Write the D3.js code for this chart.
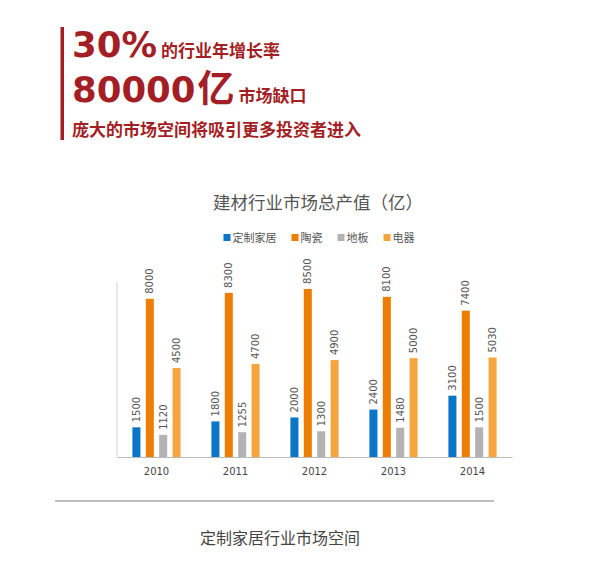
<!DOCTYPE html>
<html>
<head>
<meta charset="utf-8">
<script src="https://cdn.jsdelivr.net/npm/d3@7"></script>
<style>
  body { margin: 0; background: #fff; }
  svg { display: block; }
</style>
</head>
<body>
<div id="chart"></div>
<script>
// data
var years = ["2010", "2011", "2012", "2013", "2014"];
var seriesNames = ["定制家居", "陶瓷", "地板", "电器"];
var customHome = [1500, 1800, 2000, 2400, 3100];
var ceramics = [8000, 8300, 8500, 8100, 7400];
var flooring = [1120, 1255, 1300, 1480, 1500];
var appliances = [4500, 4700, 4900, 5000, 5030];
var colors = ["#0b75c8", "#ee7d03", "#b3b3b3", "#f5a53d"];

var seriesValues = [customHome, ceramics, flooring, appliances];
var cjk = "'Noto Sans CJK SC', sans-serif";
var red = "#a31f25";

var svg = d3.select("#chart").append("svg")
  .attr("width", 600)
  .attr("height", 566);

// ----- header block
svg.append("rect")
  .attr("x", 60.5).attr("y", 27)
  .attr("width", 3.5).attr("height", 113)
  .attr("fill", red);

function headline(y, big, small) {
  var t = svg.append("text")
    .attr("x", 72).attr("y", y)
    .attr("fill", red)
    .attr("font-weight", "bold");
  t.append("tspan")
    .attr("font-family", "'DejaVu Sans', sans-serif")
    .attr("font-size", 35.5)
    .text(big[0]);
  if (big[1]) {
    t.append("tspan")
      .attr("font-family", cjk)
      .attr("font-size", 37)
      .attr("dx", 2)
      .text(big[1]);
  }
  t.append("tspan")
    .attr("font-family", cjk)
    .attr("font-size", 17)
    .attr("dx", 4)
    .text(small);
}
headline(57, ["30%"], "的行业年增长率");
headline(102, ["80000", "亿"], "市场缺口");

svg.append("text")
  .attr("x", 72).attr("y", 136)
  .attr("fill", red)
  .attr("font-family", cjk)
  .attr("font-weight", "bold")
  .attr("font-size", 17)
  .text("庞大的市场空间将吸引更多投资者进入");

// ----- chart
var left = 117, right = 512, base = 457, plotTop = 282;

var x0 = d3.scaleBand()
  .domain(years)
  .range([left, right])
  .paddingInner(0.39)
  .paddingOuter(0.195);

var x1 = d3.scaleBand()
  .domain(seriesNames)
  .range([0, x0.bandwidth()])
  .paddingInner(0.4)
  .paddingOuter(0);

var y = d3.scaleLinear()
  .domain([0, 8850])
  .range([base, plotTop]);

svg.append("text")
  .attr("x", 318).attr("y", 209)
  .attr("text-anchor", "middle")
  .attr("fill", "#555")
  .attr("font-family", cjk)
  .attr("font-size", 17.5)
  .text("建材行业市场总产值（亿）");

// legend
var legend = svg.append("g");
var lx = 0;
seriesNames.forEach(function(name, i) {
  var item = legend.append("g").attr("transform", "translate(" + lx + ",0)");
  item.append("rect")
    .attr("x", 0).attr("y", -4)
    .attr("width", 7).attr("height", 7)
    .attr("fill", colors[i]);
  var t = item.append("text")
    .attr("x", 9).attr("y", 4)
    .attr("fill", "#555")
    .attr("font-family", cjk)
    .attr("font-size", 11)
    .text(name);
  lx += 9 + t.node().getComputedTextLength() + 15;
});
lx -= 15;
legend.attr("transform", "translate(" + (319 - lx / 2) + ",238)");

// axes lines
svg.append("line")
  .attr("x1", left).attr("x2", left)
  .attr("y1", y.range()[0]).attr("y2", y.range()[1])
  .attr("stroke", "#d0d0d0");

var xAxis = svg.append("g")
  .attr("transform", "translate(0," + base + ")")
  .call(d3.axisBottom(x0).tickSize(0).tickPadding(11));
xAxis.select(".domain").attr("stroke", "#bbb").attr("stroke-width", 1.2);
xAxis.selectAll("text")
  .attr("fill", "#444")
  .attr("font-family", "'DejaVu Sans', sans-serif")
  .attr("font-size", 10);

// bars
var groups = svg.selectAll("g.year")
  .data(years)
  .enter()
  .append("g")
  .attr("class", "year")
  .attr("transform", function(d) { return "translate(" + x0(d) + ",0)"; });

var cells = groups.selectAll("g.cell")
  .data(function(d, yi) {
    return seriesNames.map(function(s, si) {
      return { series: s, idx: si, value: seriesValues[si][yi] };
    });
  })
  .enter()
  .append("g")
  .attr("class", "cell");

cells.append("rect")
  .attr("x", function(d) { return x1(d.series); })
  .attr("y", function(d) { return y(d.value); })
  .attr("width", x1.bandwidth())
  .attr("height", function(d) { return base - y(d.value); })
  .attr("fill", function(d) { return colors[d.idx]; });

cells.append("text")
  .attr("transform", function(d) {
    return "translate(" + (x1(d.series) + x1.bandwidth() / 2) + "," + (y(d.value) - 5) + ") rotate(-90)";
  })
  .attr("dy", "0.35em")
  .attr("fill", "#555")
  .attr("font-family", "'DejaVu Sans', sans-serif")
  .attr("font-size", 10)
  .text(function(d) { return d.value; });

// ----- footer
svg.append("line")
  .attr("x1", 55).attr("x2", 494)
  .attr("y1", 501).attr("y2", 501)
  .attr("stroke", "#aaa")
  .attr("stroke-width", 1.3);

svg.append("text")
  .attr("x", 280).attr("y", 544)
  .attr("text-anchor", "middle")
  .attr("fill", "#444")
  .attr("font-family", cjk)
  .attr("font-size", 16)
  .text("定制家居行业市场空间");
</script>
</body>
</html>
